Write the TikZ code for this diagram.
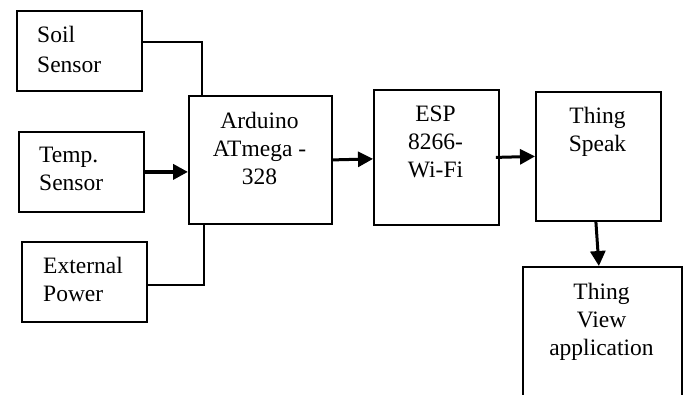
\documentclass[tikz,border=0pt]{standalone}
\usepackage{fontspec}
\setmainfont{Liberation Serif}
\usetikzlibrary{arrows.meta}
\tikzset{
  blk/.style={draw, line width=1.8pt, inner sep=0pt, anchor=north west},
  txt/.style={inner sep=0pt, font=\fontsize{23.5}{28}\selectfont},
  lnk/.style={line width=1.8pt},
  arr/.style={line width=3pt, -{Triangle[length=15pt,width=15pt]}},
}
\newcommand{\fst}{\rule{0pt}{17pt}}
\begin{document}
\begin{tikzpicture}[x=1pt,y=-1pt]
\useasboundingbox (0,0) rectangle (686,394);
% boxes
\node[blk, minimum width=125pt, minimum height=80pt] (soil) at (16,10) {};
\node[blk, minimum width=125pt, minimum height=80pt] (temp) at (18,131) {};
\node[blk, minimum width=125pt, minimum height=80pt] (ext) at (21,241) {};
\node[blk, minimum width=143pt, minimum height=128pt] (ard) at (188,95) {};
\node[blk, minimum width=125pt, minimum height=135pt] (esp) at (373,89) {};
\node[blk, minimum width=125pt, minimum height=129pt] (ts) at (535,91) {};
\node[blk, minimum width=159pt, minimum height=140pt] (tv) at (522,266) {};
% texts
\node[txt, anchor=north west, align=left, font=\fontsize{23.5}{30}\selectfont] (tsoil) at (37,25) {\fst Soil\\Sensor};
\node[txt, anchor=north west, align=left] (ttemp) at (39,145) {\fst Temp.\\Sensor};
\node[txt, anchor=north west, align=left] (text) at (43,256) {\fst External\\Power};
\node[txt, anchor=north, align=center] (tard) at (259.5,111) {\fst Arduino\\ATmega -\\328};
\node[txt, anchor=north, align=center] (tesp) at (435.5,104) {\fst ESP\\8266-\\Wi-Fi};
\node[txt, anchor=north, align=center] (tts) at (597.5,106) {\fst Thing\\Speak};
\node[txt, anchor=north, align=center] (ttv) at (601.5,282) {\fst Thing\\View\\application};
% connectors
\draw[lnk] ([yshift=9pt]soil.east) -| ([xshift=-58.5pt]ard.north);
\draw[lnk] ([yshift=-3pt]ext.east) -| ([xshift=-56.5pt]ard.south);
\draw[arr, line width=3.8pt] (temp.east) -- ([yshift=-12pt]ard.west);
\draw[arr] (ard.east) -- ([yshift=-1.5pt]esp.west);
\draw[arr] ([xshift=-4pt]esp.east) -- (ts.west);
\draw[arr] ([xshift=-2.5pt]ts.south) -- ([xshift=-3.5pt]tv.north);
\end{tikzpicture}
\end{document}
